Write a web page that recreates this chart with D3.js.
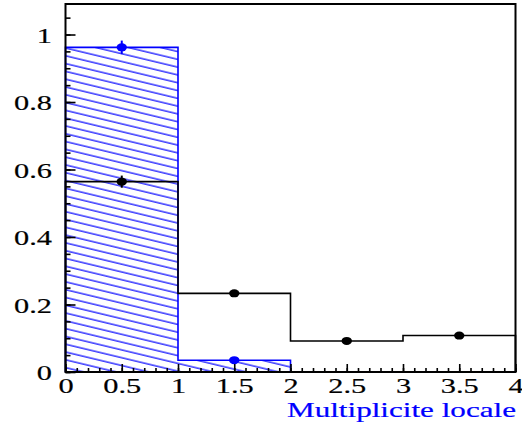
<!DOCTYPE html>
<html>
<head>
<meta charset="utf-8">
<script src="https://cdn.jsdelivr.net/npm/d3@7"></script>
<style>
  html, body { margin: 0; padding: 0; background: #fff; }
  svg { display: block; }
</style>
</head>
<body>
<svg id="chart" width="522" height="426"></svg>
<script>
// ---- data ----
const binEdges = [0, 1, 2, 3, 4];
const binCenters = [0.5, 1.5, 2.5, 3.5];
const blackValues = [0.564, 0.233, 0.092, 0.108];
const blackErrors = [0.018, 0.010, 0.008, 0.008];
const blueValues = [0.962, 0.035, 0, 0];
const blueErrors = [0.020, 0.006, 0, 0];
const xMajorTicks = [0, 0.5, 1, 1.5, 2, 2.5, 3, 3.5, 4];
const xTickLabels = ["0", "0.5", "1", "1.5", "2", "2.5", "3", "3.5", "4"];
const yMajorTicks = [0, 0.2, 0.4, 0.6, 0.8, 1];
const yTickLabels = ["0", "0.2", "0.4", "0.6", "0.8", "1"];
const xTitle = "Multiplicite locale";

// ---- layout ----
const mLeft = 65.5, mRight = 515.5, mTop = 4, mBottom = 372;
const stretch = 1.38;
const FONT = "'Liberation Serif', serif";
const svg = d3.select("#chart");

const x = d3.scaleLinear().domain([0, 4]).range([mLeft, mRight]);
const y = d3.scaleLinear().domain([0, 1.0904]).range([mBottom, mTop]);

// hatch pattern
const defs = svg.append("defs");
const pat = defs.append("pattern")
  .attr("id", "hatch").attr("patternUnits", "userSpaceOnUse")
  .attr("width", 40).attr("height", 7.58)
  .attr("patternTransform", "rotate(13.5)");
pat.append("line").attr("x1", 0).attr("x2", 40).attr("y1", 1).attr("y2", 1)
  .attr("stroke", "#0000ff").attr("stroke-width", 1.1);

// step path builder
function stepPoints(vals) {
  const pts = [[binEdges[0], 0]];
  vals.forEach((v, i) => { pts.push([binEdges[i], v]); pts.push([binEdges[i + 1], v]); });
  pts.push([binEdges[binEdges.length - 1], 0]);
  return pts;
}
const line = d3.line().x(d => x(d[0])).y(d => y(d[1]));

// blue hatched histogram
const bluePts = stepPoints(blueValues);
svg.append("path").attr("d", line(bluePts) + "Z")
  .attr("fill", "url(#hatch)").attr("stroke", "none");
svg.append("path").attr("d", line(bluePts))
  .attr("fill", "none").attr("stroke", "#0000ff").attr("stroke-width", 1.6);

// black histogram
svg.append("path").attr("d", line(stepPoints(blackValues)))
  .attr("fill", "none").attr("stroke", "#000").attr("stroke-width", 1.6);

// points with error bars
function drawPoints(vals, errs, color) {
  const g = svg.append("g");
  vals.forEach((v, i) => {
    if (v <= 0) return;
    g.append("line").attr("x1", x(binCenters[i])).attr("x2", x(binCenters[i]))
      .attr("y1", y(v - errs[i])).attr("y2", y(v + errs[i]))
      .attr("stroke", color).attr("stroke-width", 2);
    g.append("ellipse").attr("cx", x(binCenters[i])).attr("cy", y(v))
      .attr("rx", 5.2).attr("ry", 4).attr("fill", color);
  });
}
drawPoints(blueValues, blueErrors, "#0000ff");
drawPoints(blackValues, blackErrors, "#000");

// axes
const yMinor = d3.range(0, 1.06, 0.05).map(d => +d.toFixed(2));
const xMinor = d3.range(0, 4.01, 0.1).map(d => +d.toFixed(2));

const gyMinor = svg.append("g").attr("transform", `translate(${mLeft},0)`)
  .call(d3.axisLeft(y).tickValues(yMinor).tickSize(-5).tickFormat(""));
const gy = svg.append("g").attr("transform", `translate(${mLeft},0)`)
  .call(d3.axisLeft(y).tickValues(yMajorTicks).tickSize(-10).tickPadding(13)
    .tickFormat((d, i) => yTickLabels[i]));
const gxMinor = svg.append("g").attr("transform", `translate(0,${mBottom})`)
  .call(d3.axisBottom(x).tickValues(xMinor).tickSize(-4).tickFormat(""));
const gx = svg.append("g").attr("transform", `translate(0,${mBottom})`)
  .call(d3.axisBottom(x).tickValues(xMajorTicks).tickSize(-8).tickPadding(0)
    .tickFormat((d, i) => xTickLabels[i]));

[gyMinor, gy, gxMinor, gx].forEach(g => {
  g.attr("font-family", null).attr("font-size", null);
  g.select(".domain").remove();
  g.selectAll("line").attr("stroke", "#000").attr("stroke-width", 1.6);
});
gy.selectAll("text")
  .attr("fill", "#000").attr("stroke", "#000").attr("stroke-width", 0.2)
  .style("font-family", FONT).style("font-size", "22px")
  .attr("x", -13.5 / stretch).attr("dy", "0.36em")
  .attr("transform", `scale(${stretch},1)`);
gx.selectAll("text")
  .attr("fill", "#000").attr("stroke", "#000").attr("stroke-width", 0.2)
  .style("font-family", FONT).style("font-size", "22px")
  .attr("y", 21).attr("dy", 0)
  .attr("transform", `scale(${stretch},1)`);

// frame
svg.append("rect").attr("x", mLeft).attr("y", mTop)
  .attr("width", mRight - mLeft).attr("height", mBottom - mTop)
  .attr("fill", "none").attr("stroke", "#000").attr("stroke-width", 2);

// x title
svg.append("text").attr("x", 287).attr("y", 416.5)
  .style("font-family", FONT).style("font-size", "21px")
  .attr("fill", "#0000ff").attr("stroke", "#0000ff").attr("stroke-width", 0.2)
  .attr("textLength", 229).attr("lengthAdjust", "spacingAndGlyphs")
  .text(xTitle);
</script>
</body>
</html>
